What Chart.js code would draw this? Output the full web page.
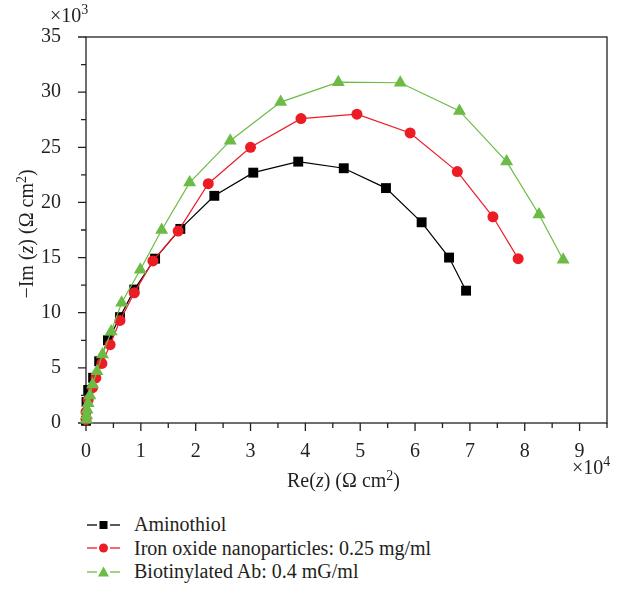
<!DOCTYPE html>
<html>
<head>
<meta charset="utf-8">
<script src="https://cdn.jsdelivr.net/npm/chart.js@4"></script>
<style>
body { margin: 0; background: #fff; }
#wrap { position: relative; width: 624px; height: 594px; }
#legend { position: absolute; left: 87px; top: 513px; font-family: "Liberation Serif", serif; font-size: 20px; color: #231f20; }
.row { height: 23.5px; display: flex; align-items: center; }
.row svg { margin-right: 14px; }
</style>
</head>
<body>
<div id="wrap">
  <canvas id="chartNyquist" width="624" height="500"></canvas>
  <div id="legend"></div>
</div>
<script>
// Re(z) in 1e4 ohm cm2, -Im(z) in 1e3 ohm cm2
var seriesNames = ["Aminothiol", "Iron oxide nanoparticles: 0.25 mg/ml", "Biotinylated Ab: 0.4 mG/ml"];

var aminoRe = [0, 0.01, 0.04, 0.13, 0.24, 0.40, 0.62, 0.88, 1.26, 1.72, 2.34, 3.05, 3.87, 4.70, 5.47, 6.12, 6.62, 6.93];
var aminoIm = [0.2, 1.9, 3.0, 4.1, 5.6, 7.5, 9.6, 12.1, 14.9, 17.6, 20.6, 22.7, 23.7, 23.1, 21.3, 18.2, 15.0, 12.0];

var ironRe = [0, 0, 0.04, 0.12, 0.18, 0.29, 0.44, 0.62, 0.88, 1.22, 1.68, 2.23, 3.00, 3.92, 4.94, 5.91, 6.77, 7.42, 7.88];
var ironIm = [0.3, 1.0, 2.1, 3.2, 4.1, 5.4, 7.1, 9.3, 11.8, 14.7, 17.4, 21.7, 25.0, 27.6, 28.0, 26.3, 22.8, 18.7, 14.9];

var biotRe = [0.01, 0.01, 0.02, 0.04, 0.07, 0.12, 0.20, 0.30, 0.46, 0.65, 0.99, 1.38, 1.89, 2.63, 3.55, 4.60, 5.73, 6.81, 7.67, 8.26, 8.70];
var biotIm = [0.3, 0.7, 1.2, 1.8, 2.5, 3.5, 4.7, 6.2, 8.3, 10.9, 13.9, 17.5, 21.8, 25.6, 29.1, 30.9, 30.85, 28.3, 23.7, 18.9, 14.8];

var xTicksShown = [0, 1, 2, 3, 4, 5, 6, 7, 8, 9];
var yTicksShown = [0, 5, 10, 15, 20, 25, 30, 35];

// axis titles as runs so z can be italic and the 2 raised
var xTitle = [["Re(", ""], ["z", "italic"], [") (Ω cm", ""], ["2", "sup"], [")", ""]];
var yTitle = [["−Im (", ""], ["z", "italic"], [") (Ω cm", ""], ["2", "sup"], [")", ""]];

var axisColor = "#231f20";
var serif = "'Liberation Serif', 'Times New Roman', serif";

function pts(xs, ys) {
    return xs.map((v, i) => ({ x: v, y: ys[i] }));
}

function runFont(kind) {
    if (kind === "italic") return "italic 20px " + serif;
    if (kind === "sup") return "14px " + serif;
    return "20px " + serif;
}

function drawRuns(ctx, runs, cx, cy) {
    var total = 0;
    runs.forEach(r => { ctx.font = runFont(r[1]); total += ctx.measureText(r[0]).width; });
    var x = cx - total / 2;
    ctx.textAlign = "left";
    ctx.textBaseline = "middle";
    runs.forEach(r => {
        ctx.font = runFont(r[1]);
        ctx.fillText(r[0], x, r[1] === "sup" ? cy - 6 : cy);
        x += ctx.measureText(r[0]).width;
    });
}

// frame, outer tick marks, titles and the ×10^n multipliers
var frameAndTicks = {
    id: "frameAndTicks",
    beforeDatasetsDraw(chart) {
        var ctx = chart.ctx, a = chart.chartArea, sx = chart.scales.x, sy = chart.scales.y;
        ctx.save();
        ctx.strokeStyle = axisColor;
        ctx.lineWidth = 1.3;
        ctx.strokeRect(a.left, a.top, a.right - a.left, a.bottom - a.top);
        ctx.beginPath();
        sx.ticks.forEach(t => {
            var px = sx.getPixelForValue(t.value);
            var len = xTicksShown.includes(t.value) ? 8 : 5;
            ctx.moveTo(px, a.bottom);
            ctx.lineTo(px, a.bottom + len);
        });
        sy.ticks.forEach(t => {
            var py = sy.getPixelForValue(t.value);
            var len = yTicksShown.includes(t.value) ? 8 : 5;
            ctx.moveTo(a.left, py);
            ctx.lineTo(a.left - len, py);
        });
        ctx.stroke();

        ctx.fillStyle = axisColor;
        ctx.textBaseline = "alphabetic";
        ctx.textAlign = "left";
        function mult(x, y, exp) {
            ctx.font = "20px " + serif;
            ctx.fillText("×10", x, y);
            var w = ctx.measureText("×10").width;
            ctx.font = "14px " + serif;
            ctx.fillText(exp, x + w, y - 8);
        }
        mult(50, 22, "3");
        mult(572, 474, "4");

        drawRuns(ctx, xTitle, (a.left + a.right) / 2 - 3, 482);
        ctx.translate(28, 234);
        ctx.rotate(-Math.PI / 2);
        drawRuns(ctx, yTitle, 0, 0);
        ctx.restore();
    }
};

new Chart(document.getElementById("chartNyquist"), {
    type: "scatter",
    data: {
        datasets: [
            {
                label: seriesNames[0],
                data: pts(aminoRe, aminoIm),
                showLine: true,
                order: 3,
                borderColor: "#000000",
                backgroundColor: "#000000",
                borderWidth: 1.2,
                pointStyle: "rect",
                pointRadius: 7,
                pointBorderWidth: 0,
                clip: false,
            },
            {
                label: seriesNames[1],
                data: pts(ironRe, ironIm),
                showLine: true,
                order: 2,
                borderColor: "#ec1c24",
                backgroundColor: "#ec1c24",
                borderWidth: 1.2,
                pointStyle: "circle",
                pointRadius: 5.5,
                pointBorderWidth: 0,
                clip: false,
            },
            {
                label: seriesNames[2],
                data: pts(biotRe, biotIm),
                showLine: true,
                order: 1,
                borderColor: "#6cbb45",
                backgroundColor: "#6cbb45",
                borderWidth: 1.2,
                pointStyle: "triangle",
                pointRadius: 7.5,
                pointBorderWidth: 0,
                clip: false,
            },
        ],
    },
    options: {
        responsive: false,
        animation: false,
        layout: { padding: { top: 37, right: 17, left: 0, bottom: 0 } },
        plugins: { legend: { display: false }, tooltip: { enabled: false } },
        scales: {
            x: {
                type: "linear",
                min: 0,
                max: 9.5,
                grid: { display: false },
                border: { display: false },
                afterFit: s => { s.height = 77; },
                ticks: {
                    stepSize: 0.5,
                    autoSkip: false,
                    maxRotation: 0,
                    padding: 9,
                    color: axisColor,
                    font: { family: serif, size: 20 },
                    callback: v => (xTicksShown.includes(v) ? v : ""),
                },
            },
            y: {
                min: 0,
                max: 35,
                grid: { display: false },
                border: { display: false },
                afterFit: s => { s.width = 86; },
                ticks: {
                    stepSize: 2.5,
                    autoSkip: false,
                    padding: 17,
                    color: axisColor,
                    font: { family: serif, size: 20 },
                    callback: v => (yTicksShown.includes(v) ? v : ""),
                },
            },
        },
    },
    plugins: [frameAndTicks],
});

// legend as html rows: line - marker - line
var legendColors = ["#000000", "#ec1c24", "#6cbb45"];
var legendMarks = [
    '<rect x="12.5" y="3" width="8" height="8"/>',
    '<circle cx="16.5" cy="7" r="4.5"/>',
    '<polygon points="16.5,1.5 22,11.5 11,11.5"/>',
];
var legend = document.getElementById("legend");
seriesNames.forEach((name, i) => {
    var c = legendColors[i];
    legend.innerHTML +=
        '<div class="row"><svg width="33" height="14" fill="' + c + '" stroke="' + c + '" stroke-width="1.3">' +
        '<line x1="0" y1="7" x2="10" y2="7"/><line x1="23" y1="7" x2="33" y2="7"/>' +
        legendMarks[i].replace("/>", ' stroke="none"/>') +
        "</svg><span>" + name + "</span></div>";
});
</script>
</body>
</html>
